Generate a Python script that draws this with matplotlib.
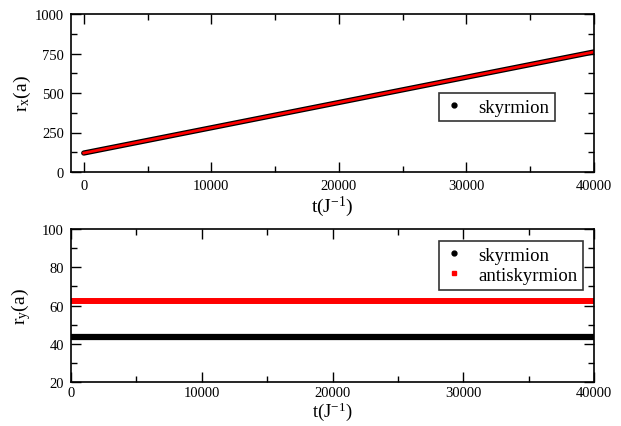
import matplotlib
matplotlib.use("Agg")
import matplotlib.pyplot as plt
from matplotlib.lines import Line2D
from matplotlib.ticker import MultipleLocator

plt.rcParams['font.family'] = ['Liberation Serif', 'DejaVu Serif']
plt.rcParams['mathtext.fontset'] = 'custom'
plt.rcParams['mathtext.rm'] = 'Liberation Serif'
plt.rcParams['mathtext.it'] = 'Liberation Serif:italic'

# data
t = [0, 10000, 20000, 30000, 40000]
rx_sky = [120, 280, 440, 600, 760]
rx_anti = [120, 280, 440, 600, 760]
ry_sky = [43.5, 43.5, 43.5, 43.5, 43.5]
ry_anti = [62.5, 62.5, 62.5, 62.5, 62.5]

W, H = 621, 427
fig = plt.figure(figsize=(W/100, H/100), dpi=100)
ax1 = fig.add_axes([71/W, 1-173/H, 523/W, 158/H])
ax2 = fig.add_axes([71/W, 1-383/H, 523/W, 153/H])

def style(ax):
    ax.tick_params(which='both', direction='in', top=True, right=True, labelsize=10.5)
    ax.tick_params(which='major', length=7, width=1, pad=5)
    ax.tick_params(which='minor', length=4, width=1)
    for s in ax.spines.values():
        s.set_linewidth(1.2)

ax1.plot(t, rx_sky, color='black', lw=3.8, solid_capstyle='round')
ax1.plot(t, rx_anti, color='red', lw=2.0)
ax1.set_xlim(-1000, 40000)
ax1.set_ylim(0, 1000)
ax1.xaxis.set_major_locator(MultipleLocator(10000))
ax1.xaxis.set_minor_locator(MultipleLocator(5000))
ax1.yaxis.set_major_locator(MultipleLocator(250))
ax1.yaxis.set_minor_locator(MultipleLocator(125))
style(ax1)
ax1.set_xlabel('t(J$^{-1}$)', fontsize=14, labelpad=1)
ax1.set_ylabel('r$_\\mathrm{x}$(a)', fontsize=14)
ax1.yaxis.set_label_coords(-0.072, 0.5)
h1 = [Line2D([], [], color='black', marker='o', ls='none', ms=3.5)]
leg1 = ax1.legend(h1, ['skyrmion'], loc='upper left', bbox_to_anchor=(0.704, 0.50),
                  fontsize=13.5, frameon=True, fancybox=False, edgecolor='black',
                  handlelength=1.0, handletextpad=0.8, borderpad=0.3,
                  borderaxespad=0)
leg1.get_frame().set_linewidth(1.2)

ax2.plot(t, ry_sky, color='black', lw=4.5, solid_capstyle='round')
ax2.plot(t, ry_anti, color='red', lw=4.3)
ax2.set_xlim(0, 40000)
ax2.set_ylim(20, 100)
ax2.xaxis.set_major_locator(MultipleLocator(10000))
ax2.xaxis.set_minor_locator(MultipleLocator(5000))
ax2.yaxis.set_major_locator(MultipleLocator(20))
ax2.yaxis.set_minor_locator(MultipleLocator(10))
style(ax2)
ax2.tick_params(axis='x', which='major', pad=3)
ax2.set_xlabel('t(J$^{-1}$)', fontsize=13.5, labelpad=0)
ax2.set_ylabel('r$_\\mathrm{y}$(a)', fontsize=14)
ax2.yaxis.set_label_coords(-0.072, 0.5)
h2 = [Line2D([], [], color='black', marker='o', ls='none', ms=3.5),
      Line2D([], [], color='red', marker='s', ls='none', ms=3.5)]
leg2 = ax2.legend(h2, ['skyrmion', 'antiskyrmion'], loc='upper left',
                  bbox_to_anchor=(0.704, 0.92),
                  fontsize=13.5, frameon=True, fancybox=False, edgecolor='black',
                  handlelength=1.0, handletextpad=0.8, borderpad=0.3, labelspacing=0.15,
                  borderaxespad=0)
leg2.get_frame().set_linewidth(1.2)

fig.savefig('out.png', dpi=100)
